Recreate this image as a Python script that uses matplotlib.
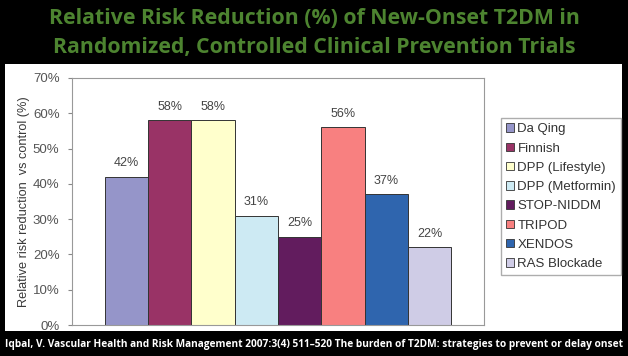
import matplotlib
matplotlib.use("Agg")
import matplotlib.pyplot as plt
from matplotlib.patches import Rectangle, Patch

trials = ["Da Qing", "Finnish", "DPP (Lifestyle)", "DPP (Metformin)",
          "STOP-NIDDM", "TRIPOD", "XENDOS", "RAS Blockade"]
reduction = [42, 58, 58, 31, 25, 56, 37, 22]
colors = ["#9595c9", "#993366", "#ffffcc", "#cdeaf3",
          "#621c5e", "#f88080", "#2f65ae", "#cfcce6"]
yticks = [0, 10, 20, 30, 40, 50, 60, 70]

title_lines = ["Relative Risk Reduction (%) of New-Onset T2DM in",
               "Randomized, Controlled Clinical Prevention Trials"]
source = ("Iqbal, V. Vascular Health and Risk Management 2007:3(4) 511\u2013520 "
          "The burden of T2DM: strategies to prevent or delay onset")

W, H = 628, 356
fig = plt.figure(figsize=(W / 100, H / 100), dpi=100, facecolor="black")

# white slide panel behind the chart
fig.patches.append(Rectangle((5 / W, 1 - 331 / H), 617 / W, 267 / H,
                             transform=fig.transFigure, facecolor="white",
                             edgecolor="none", zorder=-5))

# title
for yy, line in zip([18, 48], title_lines):
    fig.text(0.5, 1 - yy / H, line, ha="center", va="center",
             color="#4d8430", fontsize=15.3, fontweight="bold",
             family="Open Sans")

# source footer
fig.text(0.5, 1 - 344 / H, source, ha="center", va="center", color="white",
         fontsize=7.3, fontweight="bold", family="Open Sans")

ax = fig.add_axes([72 / W, 1 - 325 / H, (484 - 72) / W, (325 - 78) / H])
ax.set_facecolor("white")
x = list(range(len(trials)))
ax.bar(x, reduction, width=1.0, color=colors, edgecolor="#333333",
       linewidth=0.7, zorder=2)
for xi, v in zip(x, reduction):
    ax.text(xi, v + 2.2, f"{v}%", ha="center", va="bottom", fontsize=9,
            color="#444444", family="Liberation Sans")

ax.set_xlim(-1.26, len(trials) - 1 + 1.26)
ax.set_ylim(0, 70)
ax.set_yticks(yticks)
ax.set_yticklabels([f"{t}%" for t in yticks], fontsize=9.5, color="#555555",
                   family="Liberation Sans")
ax.set_xticks([])
ax.tick_params(axis="y", length=3, color="#888888", pad=6)
for s in ax.spines.values():
    s.set_color("#999999")
    s.set_linewidth(0.8)
ax.set_ylabel("Relative risk reduction  vs control (%)", fontsize=9.2,
              color="#3a3a3a", family="Liberation Sans", labelpad=2)

handles = [Patch(facecolor=c, edgecolor="#333333", linewidth=0.6, label=t)
           for c, t in zip(colors, trials)]
leg = fig.legend(handles=handles, loc="upper left",
                 bbox_to_anchor=(501 / W, 1 - 118 / H), frameon=True,
                 fancybox=False, edgecolor="#999999",
                 handlelength=0.6, handleheight=0.6, handletextpad=0.25,
                 labelspacing=0.55, borderpad=0.4, borderaxespad=0,
                 prop={"family": "Liberation Sans", "size": 9.5})
for t in leg.get_texts():
    t.set_color("#333333")

fig.savefig("out.png", dpi=100, facecolor="black")
